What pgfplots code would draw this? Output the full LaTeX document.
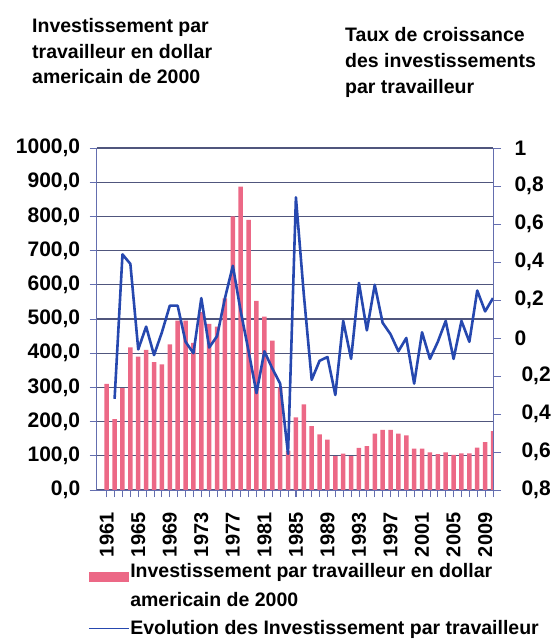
\documentclass[border=0pt]{standalone}
\usepackage{pgfplots}
\usepackage{pgfplotstable}
\pgfplotsset{compat=1.18}
\usepackage{fontspec}
\setmainfont{Liberation Sans}
\definecolor{barpink}{RGB}{236,104,134}
\definecolor{lineblue}{RGB}{38,72,175}
\definecolor{gridcol}{RGB}{80,86,125}
\definecolor{axiscol}{RGB}{100,110,175}
\newcommand\F{\fontsize{19.5bp}{26bp}\selectfont\bfseries}
\newcommand\FT{\fontsize{21bp}{26bp}\selectfont\bfseries}
\newcommand\FX{\fontsize{20bp}{26bp}\selectfont\bfseries}
\pgfplotstableread{
year val
1961 310
1962 207
1963 298
1964 417
1965 390
1966 410
1967 374
1968 367
1969 426
1970 495
1971 495
1972 430
1973 520
1974 486
1975 478
1976 560
1977 800
1978 887
1979 790
1980 553
1981 507
1982 437
1983 300
1984 115
1985 212
1986 250
1987 187
1988 163
1989 147
1990 99
1991 106
1992 99
1993 123
1994 128
1995 165
1996 176
1997 176
1998 165
1999 160
2000 121
2001 121
2002 110
2003 105
2004 110
2005 103
2006 107
2007 107
2008 124
2009 140
2010 172
}\bars
\pgfplotstableread{
year g
1962 -0.32
1963 0.44
1964 0.39
1965 -0.06
1966 0.06
1967 -0.09
1968 0.03
1969 0.17
1970 0.17
1971 -0.02
1972 -0.08
1973 0.21
1974 -0.05
1975 0.01
1976 0.21
1977 0.38
1978 0.14
1979 -0.07
1980 -0.29
1981 -0.07
1982 -0.16
1983 -0.24
1984 -0.61
1985 0.74
1986 0.23
1987 -0.22
1988 -0.12
1989 -0.10
1990 -0.30
1991 0.09
1992 -0.11
1993 0.29
1994 0.04
1995 0.28
1996 0.08
1997 0.02
1998 -0.07
1999 0.00
2000 -0.24
2001 0.03
2002 -0.11
2003 -0.02
2004 0.09
2005 -0.11
2006 0.09
2007 -0.02
2008 0.25
2009 0.14
2010 0.21
}\growth
\begin{document}
\begin{tikzpicture}
\begin{axis}[
  at={(96.7bp,150bp)}, anchor=south west,
  width=396.3bp, height=342bp, scale only axis,
  xmin=1959.73, xmax=2010, ymin=0, ymax=1000,
  axis lines=left,
  axis line style={-, axiscol, line width=0.9bp},
  tick align=outside,
  major tick length=7bp, minor tick length=7bp,
  tick style={axiscol, line width=0.8bp},
  ytick={0,100,...,1000},
  yticklabels={{0,0},{100,0},{200,0},{300,0},{400,0},{500,0},{600,0},{700,0},{800,0},{900,0},{1000,0}},
  yticklabel style={font=\FT, text=black, xshift=-6bp},
  xtick={1961,1965,...,2009},
  xticklabels={1961,1965,1969,1973,1977,1981,1985,1989,1993,1997,2001,2005,2009},
  minor xtick={1961,...,2010},
  xticklabel style={font=\FX, text=black, rotate=90, anchor=east, xshift=-12bp},
  ymajorgrids,
  grid style={gridcol, line width=1.3bp},
  legend style={at={(-0.022,-0.213)}, anchor=north west, draw=none, fill=none,
    font=\F, inner sep=0pt, row sep=12bp,
    nodes={inner sep=0.5bp}},
  legend cell align=left,
]
\addplot[ybar, bar width=4.5bp, fill=barpink, draw=none, forget plot] table[x=year,y=val] {\bars};
\addlegendimage{legend image code/.code={\path[draw=none, fill=none] (0bp,-6bp) rectangle (40bp,4bp); \fill[barpink, draw=none, overlay] (0bp,-11bp) rectangle (40bp,-1bp);}}
\addlegendentry{Investissement par travailleur en dollar}
\addlegendimage{empty legend}
\addlegendentry{americain de 2000}
\addlegendimage{legend image code/.code={\draw[lineblue, line width=1.6bp] (0bp,0bp) -- (40bp,0bp);}}
\addlegendentry{Evolution des Investissement par travailleur}
\end{axis}
\begin{axis}[
  at={(96.7bp,150bp)}, anchor=south west,
  width=396.3bp, height=342bp, scale only axis,
  xmin=1959.73, xmax=2010, ymin=-0.8, ymax=1,
  axis y line=right, axis x line=none,
  axis line style={-, axiscol, line width=0.9bp},
  tick align=outside,
  major tick length=8bp,
  tick style={axiscol, line width=0.8bp},
  ytick={-0.8,-0.6,-0.4,-0.2,0,0.2,0.4,0.6,0.8,1},
  yticklabels={{\hspace{7bp}0,8},{\hspace{7bp}0,6},{\hspace{7bp}0,4},{\hspace{7bp}0,2},0,{0,2},{0,4},{0,6},{0,8},1},
  yticklabel style={font=\FT, text=black, anchor=west, xshift=10bp},
]
\addplot[lineblue, line width=2.6bp, line join=round] table[x=year,y=g] {\growth};
\end{axis}
\node[anchor=base west, font=\F, inner sep=0pt] at (32bp,607bp) {Investissement par};
\node[anchor=base west, font=\F, inner sep=0pt] at (32bp,581.5bp) {travailleur en dollar};
\node[anchor=base west, font=\F, inner sep=0pt] at (32bp,556bp) {americain de 2000};
\node[anchor=base west, font=\F, inner sep=0pt] at (345bp,598.5bp) {Taux de croissance};
\node[anchor=base west, font=\F, inner sep=0pt] at (345bp,572bp) {des investissements};
\node[anchor=base west, font=\F, inner sep=0pt] at (345bp,546bp) {par travailleur};
\pgfresetboundingbox
\path[use as bounding box] (0bp,0bp) rectangle (557bp,640bp);
\end{tikzpicture}
\end{document}
